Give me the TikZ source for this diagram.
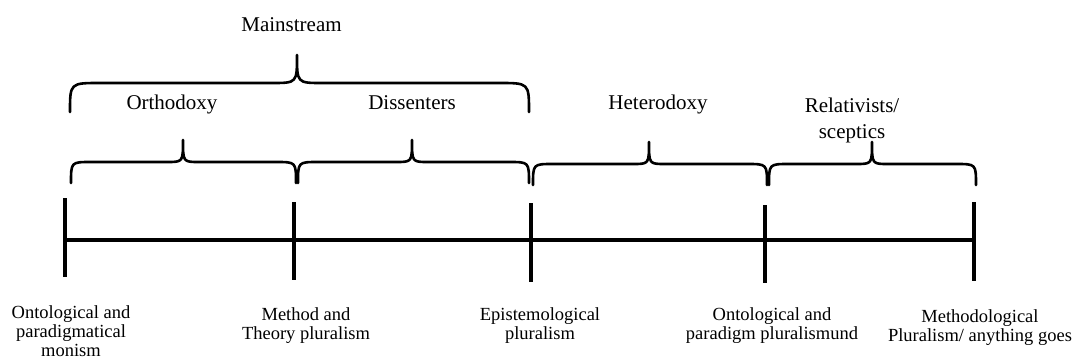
\documentclass[tikz,border=0pt]{standalone}
\usepackage{fontspec}
\setmainfont{Liberation Serif}
\begin{document}
\begin{tikzpicture}[x=1pt,y=-1pt,
  toplabel/.style={inner sep=0pt,anchor=base,font=\fontsize{21}{26}\selectfont,align=center},
  botlabel/.style={inner sep=0pt,anchor=base,font=\fontsize{18.5}{19}\selectfont,align=center},
  axisline/.style={line width=3.6pt},
  tickline/.style={line width=3.6pt},
  braceline/.style={line width=2.6pt,line cap=round,line join=round}]
\useasboundingbox (0,0) rectangle (1077,361);
% ticks
\coordinate (t1) at (65,240);
\coordinate (t2) at (294,240);
\coordinate (t3) at (531,240);
\coordinate (t4) at (765,240);
\coordinate (t5) at (974,240);
\draw[axisline] (t1) -- (t2) -- (t3) -- (t4) -- (t5);
\draw[tickline] (65,198) -- (65,277);
\draw[tickline] (294,202) -- (294,280);
\draw[tickline] (531,203) -- (531,282);
\draw[tickline] (765,205) -- (765,283);
\draw[tickline] (974,202) -- (974,281);
% upper brace: ends y=112, flat y=83, tip y=55
\draw[braceline] (70,112) .. controls (70,83) and (70,83) .. (100,83)
  -- (272,83) .. controls (297,83) and (297,83) .. (297,55)
  .. controls (297,83) and (297,83) .. (322,83)
  -- (499,83) .. controls (529,83) and (529,83) .. (529,112);
% lower braces: ends y=183, flat y=162, tip y=140
\draw[braceline] (71,183) .. controls (71,162) and (71,162) .. (91,162)
  -- (167,162) .. controls (183,162) and (183,162) .. (183,140)
  .. controls (183,162) and (183,162) .. (199,162)
  -- (276,162) .. controls (296,162) and (296,162) .. (296,183);
\draw[braceline] (298,183) .. controls (298,162) and (298,162) .. (318,162)
  -- (396,162) .. controls (412,162) and (412,162) .. (412,140)
  .. controls (412,162) and (412,162) .. (428,162)
  -- (509,162) .. controls (529,162) and (529,162) .. (529,183);
\draw[braceline] (533,185) .. controls (533,164) and (533,164) .. (553,164)
  -- (633,164) .. controls (649,164) and (649,164) .. (649,142)
  .. controls (649,164) and (649,164) .. (665,164)
  -- (747,164) .. controls (767,164) and (767,164) .. (767,185);
\draw[braceline] (769,185) .. controls (769,164) and (769,164) .. (789,164)
  -- (856,164) .. controls (872,164) and (872,164) .. (872,142)
  .. controls (872,164) and (872,164) .. (888,164)
  -- (956,164) .. controls (976,164) and (976,164) .. (976,185);
% top labels
\node[toplabel] (mainstream) at (291.5,32) {Mainstream};
\node[toplabel] (orthodoxy) at (172,110) {Orthodoxy};
\node[toplabel] (dissenters) at (412,110) {Dissenters};
\node[toplabel] (heterodoxy) at (658,110) {Heterodoxy};
\node[toplabel] (relativists) at (852,138) {Relativists/\\sceptics};
% bottom labels (base anchor = last line)
\node[botlabel] (l1) at (71,356) {Ontological and\\paradigmatical\\monism};
\node[botlabel] (l2) at (306,339) {Method and\\Theory pluralism};
\node[botlabel] (l3) at (540,339) {Epistemological\\pluralism};
\node[botlabel] (l4) at (772,339) {Ontological and\\paradigm pluralismund};
\node[botlabel] (l5) at (980,341) {Methodological\\Pluralism/ anything goes};
\end{tikzpicture}
\end{document}
